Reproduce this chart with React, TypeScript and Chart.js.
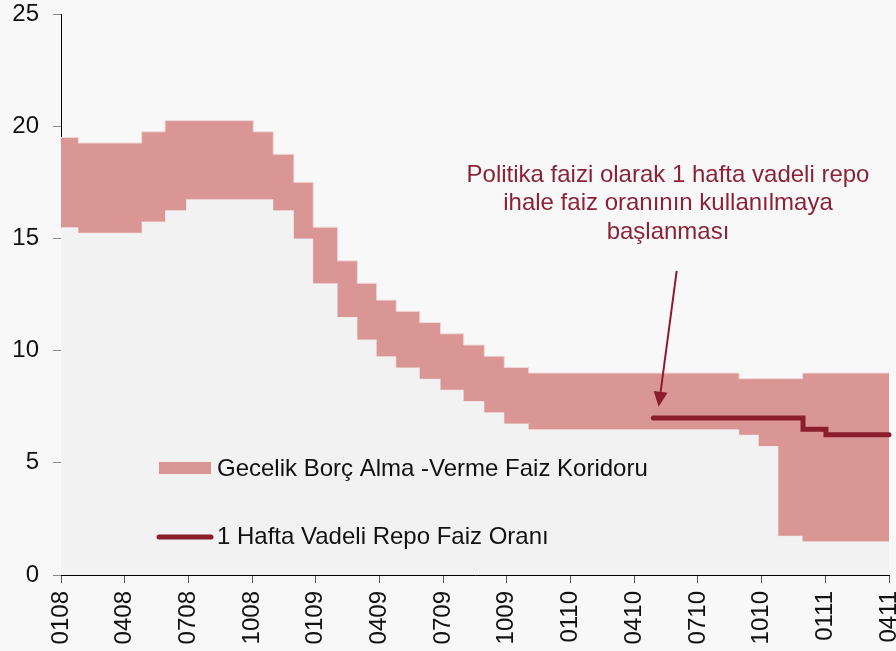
import React, { useEffect, useRef } from "react";
import { Chart, registerables } from "chart.js";

Chart.register(...registerables);

// X axis: months since Jan 2008 (0 = 0108), labels every 3 months
const tickLabels = ["0108", "0408", "0708", "1008", "0109", "0409", "0709", "1009", "0110", "0410", "0710", "1010", "0111", "0411"];

// Corridor change points (month index) with overnight borrowing / lending rates
const corridorMonths = [0, 0.82, 3.8, 4.9, 5.89, 9.06, 10.0, 10.97, 11.88, 13.03, 13.96, 14.87, 15.79, 16.9, 17.88, 18.97, 19.94, 20.88, 22.03, 31.94, 32.87, 33.79, 34.93, 39];
const borrowingRate = [15.5, 15.25, 15.75, 16.25, 16.75, 16.75, 16.25, 15.0, 13.0, 11.5, 10.5, 9.75, 9.25, 8.75, 8.25, 7.75, 7.25, 6.75, 6.5, 6.25, 5.75, 1.75, 1.5, 1.5];
const lendingRate = [19.5, 19.25, 19.75, 20.25, 20.25, 19.75, 18.75, 17.5, 15.5, 14.0, 13.0, 12.25, 11.75, 11.25, 10.75, 10.25, 9.75, 9.25, 9.0, 8.75, 8.75, 8.75, 9.0, 9.0];

// One-week repo rate
const repoMonths = [27.9, 34.95, 36.03, 39];
const repoRate = [7.0, 6.5, 6.25, 6.25];

const legendLabels = ["Gecelik Borç Alma -Verme Faiz Koridoru", "1 Hafta Vadeli Repo Faiz Oranı"];
const annotationLines = ["Politika faizi olarak 1 hafta vadeli repo", "ihale faiz oranının kullanılmaya", "başlanması"];

const FONT = "'Liberation Sans', Arial, sans-serif";
const FS = 24;
const PINK = "#d99694";
const DARK_RED = "#8b1e2d";
const TEXT_RED = "#8c2235";

const decorPlugin = {
  id: "decor",
  beforeDraw(chart: any) {
    const ctx = chart.ctx;
    ctx.save();
    ctx.fillStyle = "#f8f8f8";
    ctx.fillRect(0, 0, chart.width, chart.height);
    ctx.restore();
  },
  afterDraw(chart: any) {
    const ctx = chart.ctx;
    const xs = chart.scales.x;
    const ys = chart.scales.y;
    ctx.save();
    // legend
    ctx.fillStyle = PINK;
    ctx.fillRect(159, 462, 52, 12);
    ctx.strokeStyle = DARK_RED;
    ctx.lineWidth = 5;
    ctx.lineCap = "round";
    ctx.beginPath();
    ctx.moveTo(159, 537);
    ctx.lineTo(211, 537);
    ctx.stroke();
    ctx.fillStyle = "#111";
    ctx.font = `${FS}px ${FONT}`;
    ctx.textAlign = "left";
    ctx.textBaseline = "alphabetic";
    ctx.fillText(legendLabels[0], 217, 476);
    ctx.fillText(legendLabels[1], 217, 544);

    // annotation text
    ctx.fillStyle = TEXT_RED;
    ctx.textAlign = "center";
    const baselines = [181.5, 210, 238.5];
    annotationLines.forEach((t, i) => ctx.fillText(t, 668, baselines[i]));

    // arrow
    const x1 = xs.getPixelForValue(29.0);
    const y1 = ys.getPixelForValue(13.55);
    const x2 = xs.getPixelForValue(28.15);
    const y2 = ys.getPixelForValue(7.5);
    const ang = Math.atan2(y2 - y1, x2 - x1);
    const headLen = 15;
    const headHalf = 7;
    const bx = x2 - headLen * Math.cos(ang);
    const by = y2 - headLen * Math.sin(ang);
    ctx.strokeStyle = DARK_RED;
    ctx.lineWidth = 2;
    ctx.lineCap = "butt";
    ctx.beginPath();
    ctx.moveTo(x1, y1);
    ctx.lineTo(bx, by);
    ctx.stroke();
    ctx.fillStyle = DARK_RED;
    ctx.beginPath();
    ctx.moveTo(x2, y2);
    ctx.lineTo(bx + headHalf * Math.sin(ang), by - headHalf * Math.cos(ang));
    ctx.lineTo(bx - headHalf * Math.sin(ang), by + headHalf * Math.cos(ang));
    ctx.closePath();
    ctx.fill();
    ctx.restore();
  },
};

export default function App() {
  const ref = useRef<HTMLCanvasElement | null>(null);

  useEffect(() => {
    if (!ref.current) return;
    const lowerData = corridorMonths.map((m, i) => ({ x: m, y: borrowingRate[i] }));
    const upperData = corridorMonths.map((m, i) => ({ x: m, y: lendingRate[i] }));
    const repoData = repoMonths.map((m, i) => ({ x: m, y: repoRate[i] }));

    const chart = new Chart(ref.current, {
      type: "line",
      data: {
        datasets: [
          {
            label: "borrowing",
            data: lowerData,
            stepped: true,
            fill: "origin",
            backgroundColor: "#f2f2f2",
            borderColor: "rgba(240,222,222,1)",
            borderWidth: 1,
            pointRadius: 0,
            order: 3,
          },
          {
            label: legendLabels[0],
            data: upperData,
            stepped: true,
            fill: "-1",
            backgroundColor: PINK,
            borderColor: "rgba(240,218,218,1)",
            borderWidth: 1,
            pointRadius: 0,
            order: 2,
          },
          {
            label: legendLabels[1],
            data: repoData,
            stepped: true,
            fill: false,
            borderColor: DARK_RED,
            borderWidth: 5,
            borderCapStyle: "round",
            borderJoinStyle: "miter",
            pointRadius: 0,
            order: 1,
            clip: false,
          },
        ],
      },
      options: {
        animation: false,
        responsive: false,
        events: [],
        layout: { padding: { top: 14, right: 7, left: 0, bottom: 0 } },
        plugins: { legend: { display: false }, tooltip: { enabled: false } },
        scales: {
          x: {
            type: "linear",
            min: 0,
            max: 39,
            grid: { drawOnChartArea: false, color: "#555", tickLength: 8 },
            border: { color: "#000", width: 1 },
            ticks: {
              stepSize: 3,
              autoSkip: false,
              minRotation: 90,
              maxRotation: 90,
              padding: 8,
              color: "#111",
              font: { family: FONT, size: FS },
              callback: (v: any) => tickLabels[Math.round(Number(v) / 3)] ?? "",
            },
            afterFit: (s: any) => {
              s.height = 76;
              s.paddingLeft = 0;
              s.paddingRight = 0;
            },
          },
          y: {
            min: 0,
            max: 25,
            grid: { drawOnChartArea: false, color: "#888", tickLength: 8 },
            border: { color: "#000", width: 1 },
            ticks: {
              stepSize: 5,
              padding: 14,
              color: "#111",
              font: { family: FONT, size: FS },
            },
            afterFit: (s: any) => {
              s.width = 61;
              s.paddingTop = 0;
              s.paddingBottom = 0;
            },
          },
        },
      },
      plugins: [decorPlugin],
    });
    return () => chart.destroy();
  }, []);

  return (
    <div style={{ position: "fixed", left: 0, top: 0, width: 896, height: 651, background: "#f8f8f8" }}>
      <canvas ref={ref} width={896} height={651} style={{ display: "block", width: 896, height: 651 }} />
    </div>
  );
}
